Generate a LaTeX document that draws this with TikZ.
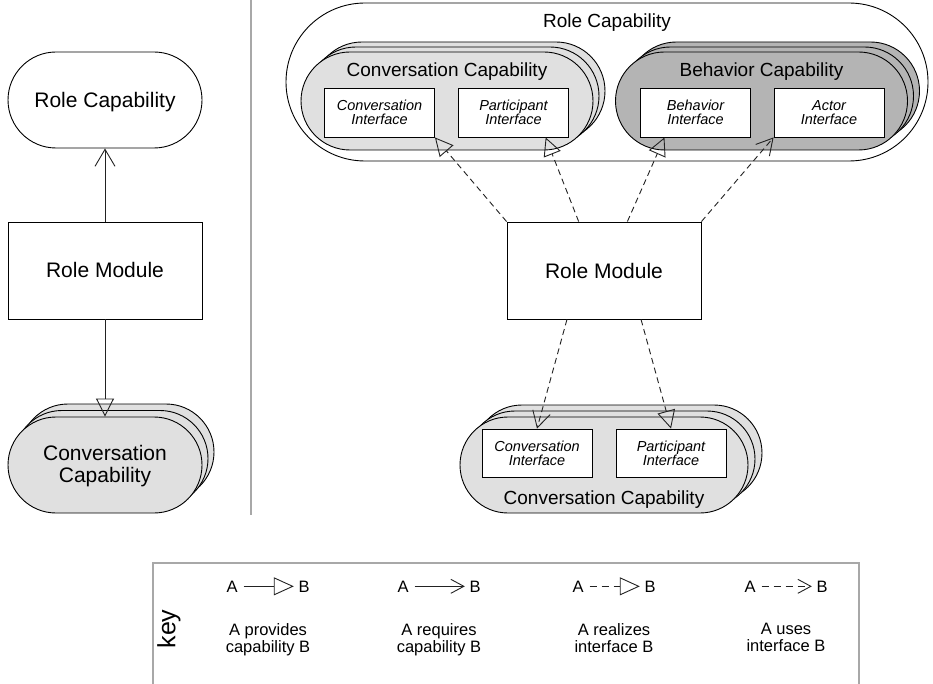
\documentclass[tikz,border=0pt]{standalone}
\usepackage{fontspec}
\setmainfont{Liberation Sans}
\usetikzlibrary{arrows.meta,calc}

\definecolor{convgray}{HTML}{E0E0E0}
\definecolor{behgray}{HTML}{B4B4B4}
\definecolor{rulegray}{HTML}{A8A8A8}
\definecolor{linkgray}{HTML}{222222}

\newcommand{\dgBig}{\fontsize{21pt}{22pt}\selectfont}
\newcommand{\dgCap}{\fontsize{19pt}{21pt}\selectfont}
\newcommand{\dgIface}{\fontsize{14.5pt}{14pt}\selectfont\itshape}
\newcommand{\dgKey}{\fontsize{16.5pt}{17pt}\selectfont}
\newcommand{\dgKeyWord}{\fontsize{25pt}{27pt}\selectfont}

\tikzset{
  stadium/.style={draw=black, line width=0.9pt, rectangle, rounded corners=#1, inner sep=0pt},
  modbox/.style={draw=black, line width=0.9pt, fill=white, rectangle, inner sep=0pt,
    minimum width=194pt, minimum height=97pt, font=\dgBig},
  ifacebox/.style={draw=black, line width=0.9pt, fill=white, rectangle, inner sep=0pt,
    minimum width=110pt, minimum height=49pt, align=center, font=\dgIface},
  txt/.style={inner sep=0pt},
  link/.style={draw=linkgray, line width=0.9pt},
  provide/.style={link, -{Triangle[open, length=18pt, width=18pt]}},
  require/.style={link, -{Straight Barb[length=17pt, width=20pt]}},
  realize/.style={link, dash pattern=on 6pt off 4pt, -{Triangle[open, length=18pt, width=18pt]}},
  use/.style={link, dash pattern=on 6pt off 4pt, -{Straight Barb[length=16pt, width=18pt]}},
  keyprovide/.style={link, -{Triangle[open, length=20pt, width=18pt]}},
  keyrequire/.style={link, -{Straight Barb[length=13pt, width=14pt]}},
  keyrealize/.style={link, dash pattern=on 7pt off 5pt, -{Triangle[open, length=20pt, width=18pt]}},
  keyuse/.style={link, dash pattern=on 7pt off 5pt, -{Straight Barb[length=13pt, width=14pt]}},
}

% three stacked stadiums, the front one gets the name
% #1 name, #2 x, #3 y, #4 width, #5 height, #6 fill, #7 dx, #8 dy
\newcommand{\capstack}[8]{%
  \node[stadium={#5*0.5pt}, fill=#6, minimum width=#4pt, minimum height=#5pt] at (#2+2*#7, #3-2*#8) {};
  \node[stadium={#5*0.5pt}, fill=#6, minimum width=#4pt, minimum height=#5pt] at (#2+#7, #3-#8) {};
  \node[stadium={#5*0.5pt}, fill=#6, minimum width=#4pt, minimum height=#5pt] (#1) at (#2, #3) {};
}

\begin{document}
\begin{tikzpicture}[x=1pt, y=-1pt]
\useasboundingbox[fill=white] (0,0) rectangle (933,684);

% ---------- simple view ----------
\node[stadium=48pt, minimum width=194pt, minimum height=96pt, fill=white] (lrc) at (105,100) {};
\node[txt, anchor=base, font=\dgBig] (lrctext) at (105,108) {Role Capability};
\node[modbox] (lrm) at (105,270.5) {};
\node[txt, anchor=base, font=\dgBig] (lrmtext) at (105,278) {Role Module};
\capstack{lcc}{105}{465}{194}{96}{convgray}{6}{6.5}
\node[txt, align=center, font=\dgBig] (lcctext) at (105,466.5) {Conversation\\Capability};

\draw[require] (lrm.north) -- (lrc.south);
\draw[provide] (lrm.south) -- (lcc.north);

% separator
\draw[rulegray, line width=1.4pt] (251,0) -- (251,515);

% ---------- detailed view ----------
\node[stadium=79pt, minimum width=642pt, minimum height=158pt, fill=white] (rrc) at (607,82) {};
\node[txt, anchor=base, font=\dgCap] (rrctext) at (607,28) {Role Capability};

\capstack{rcc}{447}{101}{292}{98}{convgray}{6}{5}
\node[txt, anchor=base, font=\dgCap] (rcctext) at (447,77) {Conversation Capability};
\node[ifacebox] (rci) at (379.5,112.5) {Conversation\\Interface};
\node[ifacebox] (rpi) at (513.5,112.5) {Participant\\Interface};

\capstack{rbc}{761.5}{101}{292}{98}{behgray}{6}{5}
\node[txt, anchor=base, font=\dgCap] (rbctext) at (761.5,77) {Behavior Capability};
\node[ifacebox] (rbi) at (695.5,112.5) {Behavior\\Interface};
\node[ifacebox] (rai) at (829,112.5) {Actor\\Interface};

\node[modbox] (rm) at (604,270.5) {};
\node[txt, anchor=base, font=\dgBig] (rmtext) at (604,279) {Role Module};

\capstack{bcc}{604}{465}{288}{96}{convgray}{7}{6}
\node[txt, anchor=base, font=\dgCap] (bcctext) at (604,504) {Conversation Capability};
\node[ifacebox, minimum height=48pt] (bci) at (537,453) {Conversation\\Interface};
\node[ifacebox, minimum height=48pt] (bpi) at (671,453) {Participant\\Interface};

\draw[realize] (rm.north west) -- (rci.south east);
\draw[realize] ($(rm.north west)!0.37!(rm.north east)$) -- ($(rpi.south west)!0.79!(rpi.south east)$);
\draw[realize] ($(rm.north west)!0.62!(rm.north east)$) -- ($(rbi.south west)!0.22!(rbi.south east)$);
\draw[use] (rm.north east) -- (rai.south west);
\draw[use] ($(rm.south west)!0.31!(rm.south east)$) -- (bci.north);
\draw[realize] ($(rm.south west)!0.69!(rm.south east)$) -- (bpi.north);

% ---------- key ----------
\draw[rulegray, line width=1.2pt] (153,690) -- (153,563) -- (859,563) -- (859,690);
\node[txt, rotate=90, font=\dgKeyWord] (keyword) at (169,629) {key};

\foreach \cx/\tag/\kind/\desc in {
    268/p/keyprovide/{A provides\\capability B},
    439/q/keyrequire/{A requires\\capability B},
    614/z/keyrealize/{A realizes\\interface B},
    786/u/keyuse/{A uses\\interface B}} {
  \node[txt, anchor=base, font=\dgKey] (ka\tag) at (\cx-36,592) {A};
  \node[txt, anchor=base, font=\dgKey] (kb\tag) at (\cx+36,592) {B};
  \draw[\kind, shorten <=6pt, shorten >=4.5pt] (ka\tag.east) -- (kb\tag.west);
  \node[txt, anchor=north, align=center, font=\dgKey] (kd\tag) at (\cx,623) {\desc};
}
\end{tikzpicture}
\end{document}
